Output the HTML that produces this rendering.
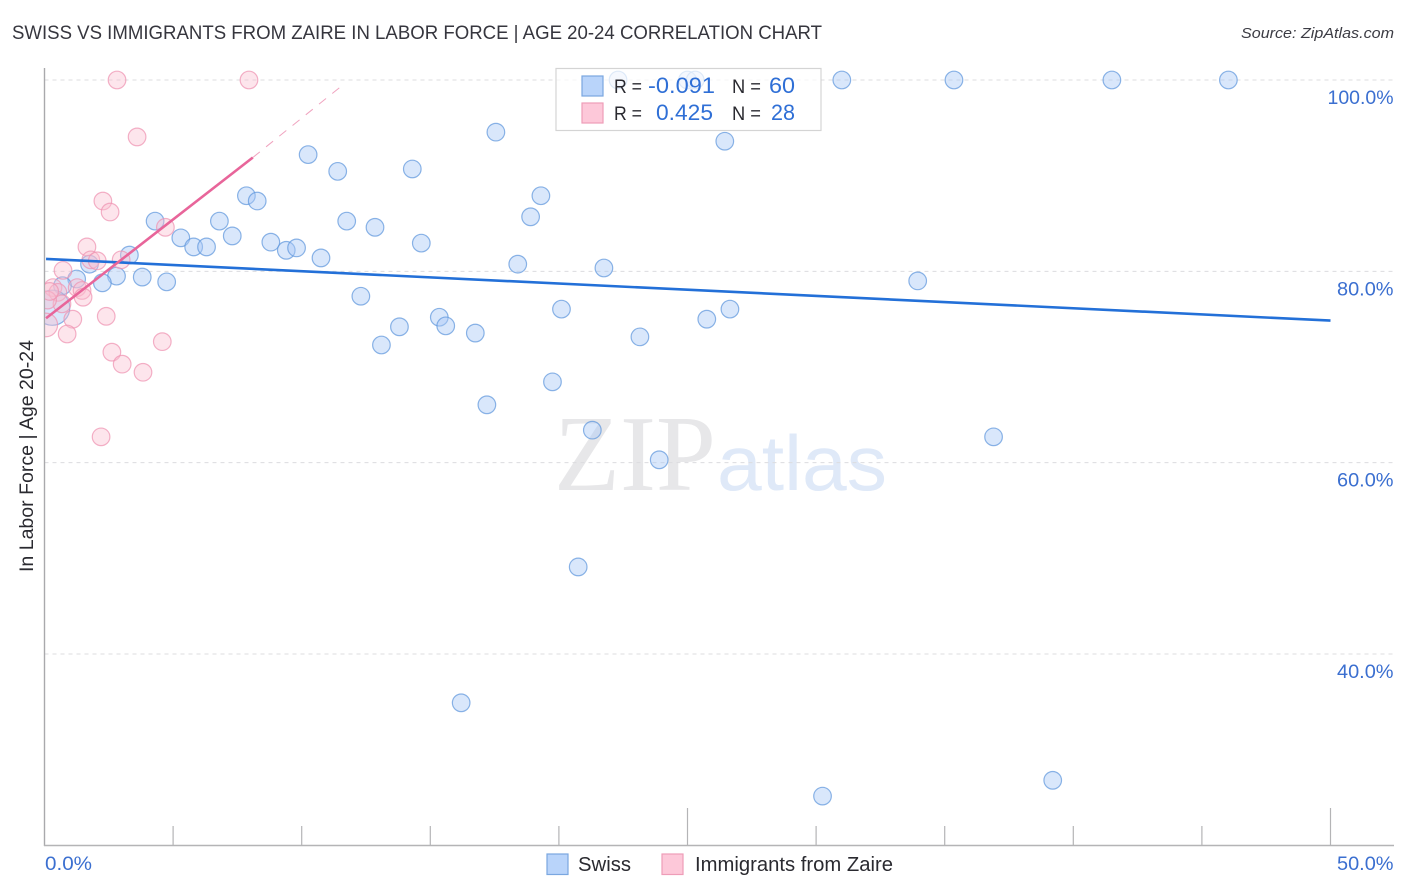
<!DOCTYPE html>
<html lang="en">
<head>
<meta charset="utf-8">
<title>Swiss vs Immigrants from Zaire in Labor Force | Age 20-24 Correlation Chart</title>
<style>
html,body{margin:0;padding:0;background:#fff;width:1406px;height:892px;overflow:hidden}
svg{display:block;font-family:"Liberation Sans",sans-serif}
</style>
</head>
<body>
<svg id="chart" width="1406" height="892" viewBox="0 0 1406 892" xmlns="http://www.w3.org/2000/svg">
  <defs>
    <clipPath id="plot-clip"><rect x="45" y="60" width="1349" height="785"/></clipPath>
  </defs>
  <rect x="0" y="0" width="1406" height="892" fill="#fff"/>
  <text x="12" y="39" font-size="19" fill="#36363e" textLength="810" lengthAdjust="spacingAndGlyphs">SWISS VS IMMIGRANTS FROM ZAIRE IN LABOR FORCE | AGE 20-24 CORRELATION CHART</text>
  <text x="1394" y="38" font-size="15" font-style="italic" fill="#3c3c44" text-anchor="end" textLength="153" lengthAdjust="spacingAndGlyphs">Source: ZipAtlas.com</text>

  <g id="watermark">
    <text x="554" y="490" font-family="'Liberation Serif',serif" font-size="108" fill="#e7e7e9" textLength="162" lengthAdjust="spacingAndGlyphs">ZIP</text>
    <text x="717" y="490" font-size="78" fill="#dfe9f8" textLength="170" lengthAdjust="spacingAndGlyphs">atlas</text>
  </g>

  <g id="grid"></g>
  <g id="axes"></g>
  <g id="swiss-points" clip-path="url(#plot-clip)"></g>
  <g id="zaire-points" clip-path="url(#plot-clip)"></g>
  <g id="trends" clip-path="url(#plot-clip)"></g>

  <g>
    <rect x="556" y="68.5" width="265" height="62" fill="#fff" fill-opacity="0.72" stroke="#d4d4d4" stroke-width="1.2"/>
    <rect x="582" y="76" width="21" height="20" fill="#b9d4fa" stroke="#7aa7e0" stroke-width="1.2"/>
    <rect x="582" y="103" width="21" height="20" fill="#fdc8d9" stroke="#ee9db8" stroke-width="1.2"/>
    <text x="614" y="93" font-size="19" fill="#2a2a30" textLength="28" lengthAdjust="spacingAndGlyphs">R =</text>
    <text x="648" y="93" font-size="22" fill="#2f6fd6" textLength="67" lengthAdjust="spacingAndGlyphs">-0.091</text>
    <text x="732" y="93" font-size="19" fill="#2a2a30" textLength="29" lengthAdjust="spacingAndGlyphs">N =</text>
    <text x="769" y="93" font-size="22" fill="#2f6fd6" textLength="26" lengthAdjust="spacingAndGlyphs">60</text>
    <text x="614" y="120" font-size="19" fill="#2a2a30" textLength="28" lengthAdjust="spacingAndGlyphs">R =</text>
    <text x="656" y="120" font-size="22" fill="#2f6fd6" textLength="57" lengthAdjust="spacingAndGlyphs">0.425</text>
    <text x="732" y="120" font-size="19" fill="#2a2a30" textLength="29" lengthAdjust="spacingAndGlyphs">N =</text>
    <text x="771" y="120" font-size="22" fill="#2f6fd6" textLength="24" lengthAdjust="spacingAndGlyphs">28</text>
  </g>

  <text transform="translate(33 572) rotate(-90)" font-size="19" fill="#2a2a30" textLength="232" lengthAdjust="spacingAndGlyphs">In Labor Force | Age 20-24</text>

  <g>
    <g>
      <rect x="547" y="854" width="21" height="20.5" fill="#b9d4fa" stroke="#7aa7e0" stroke-width="1.2"/>
      <text x="578" y="871" font-size="20" fill="#2a2a30" textLength="53" lengthAdjust="spacingAndGlyphs">Swiss</text>
    </g>
    <g>
      <rect x="662" y="854" width="21" height="20.5" fill="#fdc8d9" stroke="#ee9db8" stroke-width="1.2"/>
      <text x="695" y="871" font-size="20" fill="#2a2a30" textLength="198" lengthAdjust="spacingAndGlyphs">Immigrants from Zaire</text>
    </g>
  </g>
</svg>
<script>
const swissX = [22.3,25.0,25.3,31.0,35.36,41.5,46.03,17.55,26.45,10.25,11.4,14.3,7.85,8.27,19.3,18.9,4.3,6.8,11.75,12.85,5.3,7.3,5.8,6.3,8.8,9.4,9.8,14.65,3.3,1.75,10.75,18.4,21.75,2.8,3.8,4.75,1.25,2.25,0.7,33.95,12.3,20.1,26.65,25.75,15.35,15.6,13.8,16.75,13.1,23.15,19.75,17.2,21.3,23.9,36.9,20.75,16.2,39.2,30.25,0.3];
const swissY = [100,100,100,100,100,100,100,94.55,93.6,92.2,90.45,90.7,87.9,87.35,87.9,85.7,85.25,85.25,85.25,84.6,83.5,83.7,82.55,82.55,83.05,82.2,82.45,82.95,81.7,80.75,81.4,80.75,80.35,79.5,79.4,78.9,79.2,78.8,78.5,79.0,77.4,76.05,76.05,75.0,75.2,74.3,74.2,73.55,72.3,73.15,68.45,66.05,63.4,60.3,62.7,49.1,34.9,26.8,25.15,76.2];
const swissWeight = [1,1,1,1,1,1,1,1,1,1,1,1,1,1,1,1,1,1,1,1,1,1,1,1,1,1,1,1,1,1,1,1,1,1,1,1,1,1,1,1,1,1,1,1,1,1,1,1,1,1,1,1,1,1,1,1,1,1,1,4];
const zaireX = [2.82,7.95,3.6,2.27,2.55,4.7,1.65,1.8,2.05,2.98,0.72,0.33,0.52,1.27,1.46,1.5,1.1,2.4,0.88,0.68,0.05,2.62,3.02,3.83,4.58,2.2,0.12,0.2];
const zaireY = [100,100,94.05,87.35,86.2,84.6,82.55,81.2,81.1,81.2,80.1,78.3,77.8,78.3,78.0,77.3,75.0,75.3,73.45,76.6,74.4,71.55,70.3,69.45,72.65,62.7,77.0,77.9];
const zaireWeight = [1,1,1,1,1,1,1,1,1,1,1,1,1,1,1,1,1,1,1,1,1.8,1,1,1,1,1,1,1];
const swissTrendX = [0.06,50];
const swissTrendY = [81.3,74.85];
const zaireTrendX = [0.06,8.1];
const zaireTrendY = [75.1,91.9];
const zaireDashX = [8.1,11.7];
const zaireDashY = [91.9,99.7];
const yTicks = [100,80,60,40];
const yTickLabels = ["100.0%","80.0%","60.0%","40.0%"];
const xTicks = [0,5,10,15,20,25,30,35,40,45,50];
const xMajorTicks = [25,50];
const xEndLabels = ["0.0%","50.0%"];

const NS = "http://www.w3.org/2000/svg";
function xScale(v){ return 44.5 + v * 25.72; }
function yScale(v){ return 80 + (100 - v) * 9.567; }
function labelWidth(s){ return 9.5 * s.length + 9; }
function make(tag, attrs, parent){
  const el = document.createElementNS(NS, tag);
  for (const k in attrs) el.setAttribute(k, attrs[k]);
  parent.appendChild(el);
  return el;
}

const grid = document.getElementById("grid");
const axes = document.getElementById("axes");
yTicks.forEach(function(t, i){
  const line = make("line", {x1:44.5, x2:1394, y1:yScale(t), y2:yScale(t), stroke:"#dcdcdf", "stroke-width":1, "stroke-dasharray":"4 4"}, grid);
  
  
  const label = make("text", {x:1393.5, y:yScale(t)+24, "font-size":19, fill:"#3b6fd0", "text-anchor":"end", textLength:labelWidth(yTickLabels[i]), lengthAdjust:"spacingAndGlyphs"}, axes);
  
  
  label.textContent = yTickLabels[i];
});

const yAxis = make("line", {x1:44.5, x2:44.5, y1:68, y2:846, stroke:"#a9a9ac", "stroke-width":1.4}, axes);


const xAxis = make("line", {x1:44, x2:1394, y1:845.5, y2:845.5, stroke:"#b4b4b6", "stroke-width":1.4}, axes);


xTicks.forEach(function(t){
  if (t === 0) return;
  const major = xMajorTicks.indexOf(t) >= 0;
  const tick = make("line", {x1:xScale(t), x2:xScale(t), y1:major ? 808 : 826, y2:845.5, stroke:"#b4b4b6", "stroke-width":1.2}, axes);
  
  
});
const xLabelStart = make("text", {x:45, y:870, "font-size":19, fill:"#3b6fd0", textLength:labelWidth(xEndLabels[0]), lengthAdjust:"spacingAndGlyphs"}, axes);


xLabelStart.textContent = xEndLabels[0];
const xLabelEnd = make("text", {x:1393.5, y:870, "font-size":19, fill:"#3b6fd0", "text-anchor":"end", textLength:labelWidth(xEndLabels[1]), lengthAdjust:"spacingAndGlyphs"}, axes);


xLabelEnd.textContent = xEndLabels[1];

const swissGroup = document.getElementById("swiss-points");
swissX.forEach(function(v, i){
  const c = make("circle", {cx:xScale(v), cy:yScale(swissY[i]), r:8.8*Math.sqrt(swissWeight[i]), fill:"#a9c9f5", "fill-opacity":0.44, stroke:"#5f97dd", "stroke-opacity":0.72, "stroke-width":1.2}, swissGroup);
  
  
});
const zaireGroup = document.getElementById("zaire-points");
zaireX.forEach(function(v, i){
  const c = make("circle", {cx:xScale(v), cy:yScale(zaireY[i]), r:8.8*Math.sqrt(zaireWeight[i]), fill:"#fbbdd0", "fill-opacity":0.4, stroke:"#ee93b2", "stroke-opacity":0.72, "stroke-width":1.2}, zaireGroup);
  
  
});

const trends = document.getElementById("trends");
const swissTrend = make("line", {x1:xScale(swissTrendX[0]), y1:yScale(swissTrendY[0]), x2:xScale(swissTrendX[1]), y2:yScale(swissTrendY[1]), stroke:"#2370d8", "stroke-width":2.6}, trends);


const zaireTrend = make("line", {x1:xScale(zaireTrendX[0]), y1:yScale(zaireTrendY[0]), x2:xScale(zaireTrendX[1]), y2:yScale(zaireTrendY[1]), stroke:"#e8659a", "stroke-width":2.6}, trends);


const zaireDash = make("line", {x1:xScale(zaireDashX[0]), y1:yScale(zaireDashY[0]), x2:xScale(zaireDashX[1]), y2:yScale(zaireDashY[1]), stroke:"#f0a3bf", "stroke-width":1, "stroke-dasharray":"9 8"}, trends);


</script>
</body>
</html>
